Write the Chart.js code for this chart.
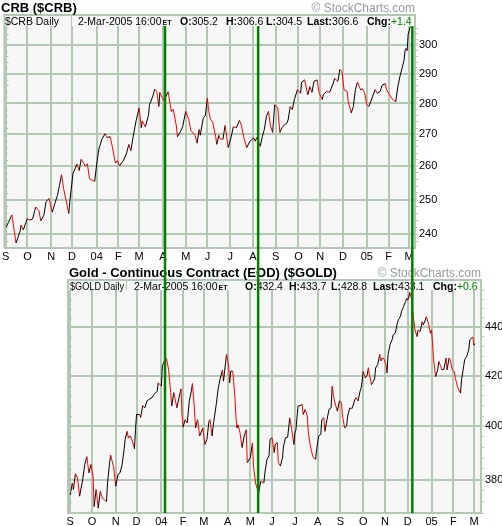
<!DOCTYPE html>
<html>
<head>
<meta charset="utf-8">
<script src="https://cdn.jsdelivr.net/npm/chart.js@4.4.1/dist/chart.umd.min.js"></script>
<style>
  body { margin: 0; background: #fff; }
  #wrap { position: relative; width: 502px; height: 526px; }
  canvas { position: absolute; left: 0; }
</style>
</head>
<body>
<div id="wrap">
  <canvas id="crb" width="502" height="262" style="top:0"></canvas>
  <canvas id="gold" width="502" height="264" style="top:262px"></canvas>
</div>
<script>
// first session of each month and the label under it
const monthTicks = ['2003-09-02', '2003-10-01', '2003-11-03', '2003-12-01', '2004-01-02', '2004-02-02',
  '2004-03-01', '2004-04-01', '2004-05-03', '2004-06-01', '2004-07-01', '2004-08-02', '2004-09-01',
  '2004-10-01', '2004-11-01', '2004-12-01', '2005-01-03', '2005-02-01', '2005-03-01'];
const monthLabels = ['S', 'O', 'N', 'D', '04', 'F', 'M', 'A', 'M', 'J', 'J', 'A', 'S', 'O', 'N', 'D', '05', 'F', 'M'];

// green marker lines (dates on the CRB panel)
const markerDates = ['2004-04-05', '2004-08-09', '2005-03-04'];

const crbDates = [
  '2003-09-02', '2003-09-10', '2003-09-16', '2003-09-22', '2003-09-23', '2003-09-25',
  '2003-10-01', '2003-10-03', '2003-10-08', '2003-10-13', '2003-10-16', '2003-10-20', '2003-10-23', '2003-10-27', '2003-10-30',
  '2003-11-04', '2003-11-07', '2003-11-11', '2003-11-13', '2003-11-17', '2003-11-19', '2003-11-21', '2003-11-26', '2003-11-27',
  '2003-12-02', '2003-12-08', '2003-12-10', '2003-12-12', '2003-12-18', '2003-12-22', '2003-12-24', '2003-12-29', '2003-12-31',
  '2004-01-02', '2004-01-06', '2004-01-09', '2004-01-14', '2004-01-16', '2004-01-21', '2004-01-23', '2004-01-28', '2004-01-30',
  '2004-02-03', '2004-02-09', '2004-02-12', '2004-02-16', '2004-02-18', '2004-02-20', '2004-02-25',
  '2004-03-01', '2004-03-03', '2004-03-04', '2004-03-09', '2004-03-12', '2004-03-15', '2004-03-18', '2004-03-22', '2004-03-24', '2004-03-26', '2004-03-29', '2004-03-31',
  '2004-04-02', '2004-04-06', '2004-04-08', '2004-04-13', '2004-04-15', '2004-04-20', '2004-04-21', '2004-04-26', '2004-04-28',
  '2004-05-03', '2004-05-06', '2004-05-10', '2004-05-14', '2004-05-18', '2004-05-20', '2004-05-21', '2004-05-26', '2004-05-28',
  '2004-06-01', '2004-06-02', '2004-06-04', '2004-06-08', '2004-06-11', '2004-06-14', '2004-06-16', '2004-06-17', '2004-06-22', '2004-06-24', '2004-06-25', '2004-06-29',
  '2004-07-02', '2004-07-06', '2004-07-09', '2004-07-14', '2004-07-16', '2004-07-20', '2004-07-23', '2004-07-28',
  '2004-08-03', '2004-08-04', '2004-08-06', '2004-08-11', '2004-08-13', '2004-08-17', '2004-08-19', '2004-08-23', '2004-08-25', '2004-08-27', '2004-08-31',
  '2004-09-03', '2004-09-07', '2004-09-09', '2004-09-14', '2004-09-16', '2004-09-17', '2004-09-21', '2004-09-23', '2004-09-27', '2004-09-30',
  '2004-10-05', '2004-10-06', '2004-10-11', '2004-10-14', '2004-10-18', '2004-10-20', '2004-10-22', '2004-10-27', '2004-10-29',
  '2004-11-03', '2004-11-04', '2004-11-09', '2004-11-12', '2004-11-17', '2004-11-19', '2004-11-24', '2004-11-26', '2004-11-30',
  '2004-12-02', '2004-12-07', '2004-12-08', '2004-12-13', '2004-12-15', '2004-12-17', '2004-12-21', '2004-12-24', '2004-12-28', '2004-12-30',
  '2005-01-03', '2005-01-05', '2005-01-07', '2005-01-13', '2005-01-17', '2005-01-20', '2005-01-24', '2005-01-27', '2005-01-28',
  '2005-02-02', '2005-02-07', '2005-02-10', '2005-02-14', '2005-02-16', '2005-02-22', '2005-02-23', '2005-02-24', '2005-02-25', '2005-02-28',
  '2005-03-01', '2005-03-02'];
const crbValues = [
  241.7, 245.5, 237.5, 240.9, 242.6, 241.2,
  244.5, 244.0, 244.3, 247.8, 246.8, 243.8, 245.5, 249.4, 250.3,
  246.3, 249.3, 251.2, 254.2, 257.4, 253.2, 250.2, 245.9, 249.4,
  257.7, 260.7, 258.7, 262.2, 260.1, 260.7, 256.2, 255.7, 255.4,
  260.7, 265.3, 268.4, 270.2, 269.0, 269.2, 266.2, 261.0, 261.7,
  260.1, 261.9, 264.2, 266.8, 264.8, 268.9, 274.3,
  278.5, 272.1, 274.3, 272.4, 276.1, 279.6, 282.1, 284.8, 284.0, 279.0, 283.7, 282.1,
  281.1, 282.4, 283.9, 277.4, 278.0, 272.6, 269.2, 270.9, 272.4,
  277.4, 274.7, 271.2, 269.7, 267.2, 271.6, 269.7, 275.2, 276.1,
  281.8, 278.0, 274.7, 274.0, 269.2, 266.8, 269.7, 268.6, 268.4, 272.8, 270.9, 265.8,
  269.2, 272.4, 272.1, 274.5, 272.6, 269.2, 265.8, 267.8,
  268.9, 267.8, 269.0, 266.2, 269.2, 271.6, 275.8, 277.4, 272.6, 270.6, 279.6,
  278.5, 270.6, 272.1, 273.2, 273.7, 274.7, 279.0, 278.0, 281.3, 284.6,
  283.4, 287.1, 287.9, 282.9, 285.6, 283.7, 287.4, 287.9, 283.4,
  281.3, 282.9, 284.0, 283.7, 286.2, 288.4, 287.4, 291.5, 290.7,
  284.6, 284.0, 280.8, 276.9, 279.0, 284.6, 287.1, 284.6, 284.8, 283.4,
  279.6, 279.0, 280.8, 284.6, 283.4, 284.0, 286.2, 286.6, 284.6,
  282.9, 281.3, 280.6, 285.6, 289.0, 294.6, 298.1, 298.8, 298.0, 303.9,
  305.2, 306.6];
const crbTicks = [240, 250, 260, 270, 280, 290, 300];

const goldDates = [
  '2003-09-02', '2003-09-04', '2003-09-05', '2003-09-09', '2003-09-11', '2003-09-15', '2003-09-18', '2003-09-22', '2003-09-24', '2003-09-26', '2003-09-30',
  '2003-10-02', '2003-10-03', '2003-10-07', '2003-10-09', '2003-10-13', '2003-10-15', '2003-10-17', '2003-10-21', '2003-10-22', '2003-10-24', '2003-10-27', '2003-10-30',
  '2003-11-03', '2003-11-05', '2003-11-07', '2003-11-11', '2003-11-13', '2003-11-14', '2003-11-18', '2003-11-19', '2003-11-21', '2003-11-25', '2003-11-27', '2003-11-28',
  '2003-12-01', '2003-12-04', '2003-12-05', '2003-12-09', '2003-12-11', '2003-12-15', '2003-12-17', '2003-12-22', '2003-12-24', '2003-12-29', '2003-12-30',
  '2004-01-02', '2004-01-05', '2004-01-07', '2004-01-09', '2004-01-13', '2004-01-15', '2004-01-16', '2004-01-20', '2004-01-21', '2004-01-23', '2004-01-27', '2004-01-29', '2004-01-30',
  '2004-02-02', '2004-02-04', '2004-02-06', '2004-02-10', '2004-02-12', '2004-02-13', '2004-02-17', '2004-02-18', '2004-02-20', '2004-02-24', '2004-02-27',
  '2004-03-02', '2004-03-04', '2004-03-08', '2004-03-09', '2004-03-11', '2004-03-12', '2004-03-17', '2004-03-19', '2004-03-23', '2004-03-25', '2004-03-26', '2004-03-30', '2004-03-31',
  '2004-04-02', '2004-04-05', '2004-04-06', '2004-04-08', '2004-04-12', '2004-04-13', '2004-04-14', '2004-04-15', '2004-04-19', '2004-04-21', '2004-04-23', '2004-04-27', '2004-04-28',
  '2004-05-03', '2004-05-05', '2004-05-06', '2004-05-10', '2004-05-11', '2004-05-13', '2004-05-17', '2004-05-20', '2004-05-21', '2004-05-25', '2004-05-27', '2004-05-28',
  '2004-06-01', '2004-06-03', '2004-06-04', '2004-06-08', '2004-06-09', '2004-06-11', '2004-06-15', '2004-06-16', '2004-06-18', '2004-06-22', '2004-06-24', '2004-06-28', '2004-06-30',
  '2004-07-01', '2004-07-02', '2004-07-06', '2004-07-08', '2004-07-12', '2004-07-13', '2004-07-15', '2004-07-19', '2004-07-20', '2004-07-22', '2004-07-26', '2004-07-27', '2004-07-29', '2004-07-30',
  '2004-08-03', '2004-08-05', '2004-08-06', '2004-08-10', '2004-08-11', '2004-08-13', '2004-08-17', '2004-08-19', '2004-08-20', '2004-08-24', '2004-08-27', '2004-08-31',
  '2004-09-02', '2004-09-03', '2004-09-07', '2004-09-09', '2004-09-10', '2004-09-14', '2004-09-16', '2004-09-17', '2004-09-21', '2004-09-22', '2004-09-24', '2004-09-28', '2004-09-29', '2004-09-30',
  '2004-10-01', '2004-10-05', '2004-10-07', '2004-10-08', '2004-10-11', '2004-10-13', '2004-10-14', '2004-10-18', '2004-10-19', '2004-10-21', '2004-10-25', '2004-10-26', '2004-10-28', '2004-10-29',
  '2004-11-02', '2004-11-03', '2004-11-04', '2004-11-08', '2004-11-10', '2004-11-11', '2004-11-15', '2004-11-17', '2004-11-18', '2004-11-22', '2004-11-23', '2004-11-25', '2004-11-29', '2004-11-30',
  '2004-12-01', '2004-12-02', '2004-12-03', '2004-12-07', '2004-12-08', '2004-12-10', '2004-12-14', '2004-12-15', '2004-12-17', '2004-12-21', '2004-12-22', '2004-12-24', '2004-12-27', '2004-12-29', '2004-12-31',
  '2005-01-03', '2005-01-04', '2005-01-05', '2005-01-07', '2005-01-11', '2005-01-12', '2005-01-14', '2005-01-17', '2005-01-19', '2005-01-21', '2005-01-24', '2005-01-26', '2005-01-27', '2005-01-31',
  '2005-02-02', '2005-02-03', '2005-02-07', '2005-02-09', '2005-02-10', '2005-02-11', '2005-02-15', '2005-02-16', '2005-02-18', '2005-02-22', '2005-02-23', '2005-02-24', '2005-02-25', '2005-02-28',
  '2005-03-01', '2005-03-02'];
const goldValues = [
  374.5, 378.8, 376.4, 382.2, 380.6, 374.0, 380.0, 385.6, 388.5, 382.5, 385.6,
  381.3, 370.3, 376.4, 369.7, 375.8, 373.3, 372.7, 372.1, 378.8, 386.3, 389.1, 384.4,
  377.6, 381.9, 382.5, 385.3, 391.2, 395.0, 398.1, 395.6, 396.3, 394.4, 391.5, 398.7,
  404.6, 404.6, 403.5, 408.1, 407.2, 409.9, 410.5, 411.2, 412.5, 413.8, 417.1,
  415.8, 423.9, 426.0, 426.9, 422.5, 413.2, 407.9, 413.2, 411.2, 407.2, 411.2, 414.7, 404.0,
  399.7, 402.6, 401.3, 409.9, 413.8, 416.8, 406.6, 399.4, 402.6, 396.3, 399.4,
  393.1, 395.0, 402.0, 402.6, 396.3, 400.0, 408.5, 415.1, 419.1, 422.2, 417.8, 425.2, 428.7,
  423.9, 417.1, 421.8, 421.8, 411.9, 404.0, 399.4, 400.6, 397.5, 391.9, 396.3, 398.7, 386.3,
  388.1, 393.7, 385.0, 378.8, 377.4, 375.2, 379.4, 378.8, 382.5, 387.5, 388.8, 395.0,
  395.6, 390.0, 393.1, 393.7, 386.3, 385.0, 388.1, 392.5, 395.6, 395.8, 403.3, 398.7, 393.1,
  397.5, 398.7, 407.9, 408.1, 408.5, 404.6, 406.6, 404.0, 397.5, 392.5, 389.0, 388.1, 387.5, 391.2,
  396.3, 396.9, 402.6, 403.3, 398.1, 402.6, 406.6, 407.2, 415.8, 410.3, 405.9, 409.9,
  409.2, 404.0, 399.4, 400.3, 404.0, 407.2, 406.8, 407.9, 410.5, 411.2, 409.9, 413.8, 415.1, 417.8,
  421.8, 419.1, 420.4, 423.2, 420.4, 416.4, 417.1, 418.7, 423.2, 424.5, 428.7, 426.0, 427.3, 426.9,
  424.5, 421.1, 428.7, 432.8, 434.9, 436.9, 437.6, 441.8, 443.2, 444.7, 446.8, 448.9, 451.1, 452.5,
  451.7, 453.0, 455.1, 451.6, 446.0, 438.9, 436.1, 438.9, 438.2, 442.4, 441.0, 443.1, 444.5, 441.7, 437.5,
  438.9, 433.4, 426.5, 419.6, 422.4, 425.8, 423.7, 422.4, 422.6, 427.2, 422.4, 427.2, 426.5, 422.4,
  421.7, 419.0, 415.7, 413.7, 413.0, 418.3, 423.7, 426.5, 427.9, 430.6, 434.8, 435.2, 435.5, 435.9,
  432.5, 433.1];
const goldTicks = [380, 400, 420, 440];

const crbQuote = [['O:', '305.2'], ['H:', '306.6'], ['L:', '304.5'], ['Last:', '306.6'], ['Chg:', '+1.4']];
const goldQuote = [['O:', '432.4'], ['H:', '433.7'], ['L:', '428.8'], ['Last:', '433.1'], ['Chg:', '+0.6']];
const quoteDate = '2-Mar-2005 16:00';

const FONT = "'Liberation Sans', Arial, sans-serif";
const GRID = '#b2c8b2';
const RED = '#ff0000';
const GREEN = '#008000';
const HEAD = 10.5;

// trading-day position: weekdays counted from Mon 1-Sep-2003
function wd(s) {
  const t = Date.UTC(+s.slice(0, 4), +s.slice(5, 7) - 1, +s.slice(8, 10));
  const d = Math.round((t - Date.UTC(2003, 8, 1)) / 864e5);
  return Math.floor(d / 7) * 5 + Math.min(d % 7, 5);
}

function xAxis(min, max, height) {
  return {
    type: 'linear', min, max,
    afterBuildTicks: s => { s.ticks = monthTicks.map(d => ({ value: wd(d) })); },
    afterFit: s => { s.height = height; },
    border: { display: false },
    grid: { color: GRID, lineWidth: 2, drawTicks: false },
    ticks: {
      autoSkip: false, maxRotation: 0, minRotation: 0, padding: 2, color: '#000',
      font: { family: FONT, size: 11 },
      callback: (v, i) => monthLabels[i]
    }
  };
}

function yAxis(min, max, majors, step, width) {
  const all = [];
  for (let v = Math.ceil(min / step) * step; v <= max; v += step) all.push(v);
  const isMajor = c => c.tick && majors.includes(c.tick.value);
  return {
    type: 'logarithmic', position: 'right', min, max,
    afterBuildTicks: s => { s.ticks = all.map(v => ({ value: v })); },
    afterFit: s => { s.width = width; },
    border: { display: false },
    grid: {
      color: c => isMajor(c) ? GRID : 'rgba(0,0,0,0)',
      lineWidth: c => isMajor(c) ? 2 : 1,
      tickColor: GRID, tickWidth: 1, tickLength: 3
    },
    ticks: {
      autoSkip: false, padding: 1, color: '#000',
      font: { family: FONT, size: 11 },
      callback: v => majors.includes(v) ? String(v) : ''
    }
  };
}

function series(dates, values) {
  return {
    data: dates.map((d, i) => ({ x: wd(d), y: values[i] })),
    borderColor: '#000', borderWidth: 1, pointRadius: 0, tension: 0,
    segment: { borderColor: c => c.p1.parsed.y < c.p0.parsed.y ? RED : '#000' }
  };
}

let crbChart;

function panel(o) {
  return {
    id: 'panel',
    beforeDraw(chart) {
      const { ctx, chartArea: a } = chart;
      ctx.save();
      ctx.fillStyle = '#f7f7f7';
      ctx.fillRect(a.left, o.frameTop, a.right - a.left, a.bottom - o.frameTop);
      ctx.restore();
    },
    afterDraw(chart) {
      const { ctx, chartArea: a } = chart;
      const y = chart.scales.y;
      ctx.save();
      // small ticks inside the left edge
      ctx.strokeStyle = GRID;
      ctx.lineWidth = 1;
      y.ticks.forEach(t => {
        const py = Math.round(y.getPixelForValue(t.value)) + 0.5;
        ctx.beginPath(); ctx.moveTo(a.left, py); ctx.lineTo(a.left + 4, py); ctx.stroke();
      });
      // frame and header divider
      ctx.lineWidth = 2;
      ctx.strokeRect(a.left, o.frameTop, a.right - a.left, a.bottom - o.frameTop);
      ctx.lineWidth = 1;
      ctx.beginPath(); ctx.moveTo(o.sepX + 0.5, o.frameTop); ctx.lineTo(o.sepX + 0.5, a.top); ctx.stroke();

      // header text
      const hb = o.frameTop + 9.5;
      ctx.fillStyle = '#000';
      ctx.font = HEAD + 'px ' + FONT;
      ctx.fillText(o.symbol, o.symX, hb, 54);
      ctx.fillText(quoteDate, o.dateX, hb);
      const ex = o.dateX + ctx.measureText(quoteDate).width;
      ctx.font = 'bold 7px ' + FONT;
      ctx.fillText('ET', ex + 1, hb);
      o.quote.forEach(([lab, val], i) => {
        let x = o.quoteX[i];
        ctx.font = 'bold ' + HEAD + 'px ' + FONT;
        ctx.fillStyle = '#000';
        ctx.fillText(lab, x, hb);
        x += ctx.measureText(lab).width;
        ctx.font = HEAD + 'px ' + FONT;
        ctx.fillStyle = i === o.quote.length - 1 ? GREEN : '#000';
        ctx.fillText(val, x, hb);
      });

      // title and copyright
      ctx.fillStyle = '#000';
      ctx.font = 'bold 13px ' + FONT;
      ctx.fillText(o.title, o.titleX, o.titleBase);
      ctx.fillStyle = '#999';
      ctx.font = '12px ' + FONT;
      ctx.textAlign = 'right';
      ctx.fillText('\u00a9 StockCharts.com', a.right, o.titleBase);

      // vertical markers running through both panels
      const xs = (crbChart || chart).scales.x;
      ctx.strokeStyle = GREEN;
      ctx.lineWidth = 2.5;
      markerDates.forEach(d => {
        const px = xs.getPixelForValue(wd(d));
        ctx.beginPath();
        ctx.moveTo(px, o.lineTop(chart));
        ctx.lineTo(px, o.lineBottom(chart));
        ctx.stroke();
      });
      ctx.restore();
    }
  };
}

function makeChart(id, dataset, scales, pad, plugin) {
  return new Chart(document.getElementById(id), {
    type: 'line',
    data: { datasets: [dataset] },
    options: {
      responsive: false, animation: false, devicePixelRatio: 1, events: [],
      layout: { autoPadding: false, padding: pad },
      plugins: { legend: { display: false }, tooltip: { enabled: false } },
      scales
    },
    plugins: [plugin]
  });
}

crbChart = makeChart('crb', series(crbDates, crbValues), {
  x: xAxis(-0.2, 396.6, 14),
  y: yAxis(236.1, 306.8, crbTicks, 2, 87)
}, { left: 4, top: 26, right: 0, bottom: 0 }, panel({
  title: 'CRB ($CRB)', titleX: 1, titleBase: 12,
  symbol: '$CRB Daily', symX: 5, sepX: 71, dateX: 78,
  quote: crbQuote, quoteX: [180, 226, 266, 307, 367],
  frameTop: 15,
  lineTop: c => c.chartArea.top, lineBottom: c => c.height
}));

makeChart('gold', series(goldDates, goldValues), {
  x: xAxis(-1.2, 397.8, 13),
  y: yAxis(368.0, 456.1, goldTicks, 4, 21)
}, { left: 68, top: 28, right: 0, bottom: 0 }, panel({
  title: 'Gold - Continuous Contract (EOD) ($GOLD)', titleX: 69, titleBase: 15,
  symbol: '$GOLD Daily', symX: 70, sepX: 126, dateX: 134,
  quote: goldQuote, quoteX: [245, 289, 331, 373, 433],
  frameTop: 18,
  lineTop: () => 0, lineBottom: c => c.chartArea.bottom
}));
</script>
</body>
</html>
